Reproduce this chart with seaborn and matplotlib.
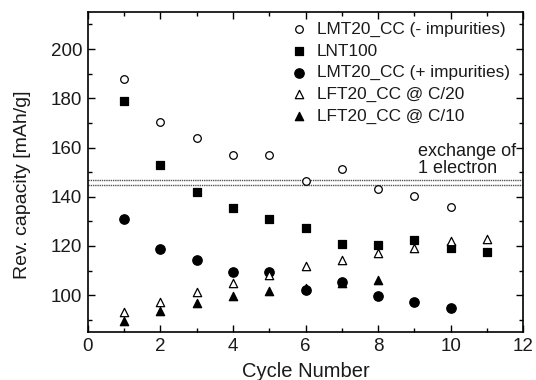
import matplotlib
matplotlib.use("Agg")
import matplotlib.pyplot as plt
from matplotlib.ticker import MultipleLocator
import seaborn as sns
import pandas as pd

sns.set_theme(style="ticks")
plt.rcParams["font.family"] = ["Liberation Sans", "DejaVu Sans"]

# Reversible capacity per cycle for each sample
cycles_lmt_clean = [1, 2, 3, 4, 5, 6, 7, 8, 9, 10]
cap_lmt_clean = [187.7, 170.4, 163.7, 156.8, 156.8, 146.5, 151.2, 143.1, 140.3, 135.9]

cycles_lnt = [1, 2, 3, 4, 5, 6, 7, 8, 9, 10, 11]
cap_lnt = [179.0, 153.1, 142.0, 135.5, 131.1, 127.3, 120.9, 120.2, 122.3, 119.3, 117.5]

cycles_lmt_imp = [1, 2, 3, 4, 5, 6, 7, 8, 9, 10]
cap_lmt_imp = [130.9, 118.9, 114.1, 109.3, 109.3, 102.2, 105.2, 99.5, 97.3, 94.6]

cycles_lft_c20 = [1, 2, 3, 4, 5, 6, 7, 8, 9, 10, 11]
cap_lft_c20 = [93.3, 97.3, 101.1, 104.8, 108.2, 111.8, 114.5, 117.1, 119.3, 121.9, 122.7]

cycles_lft_c10 = [1, 2, 3, 4, 5, 6, 7, 8]
cap_lft_c10 = [89.6, 93.7, 96.8, 99.5, 101.8, 102.8, 105.0, 106.0]

# Capacity band for the exchange of one electron
electron_band = [146.7, 144.6]

series = [
    ("LMT20_CC (- impurities)", cycles_lmt_clean, cap_lmt_clean, "o", "white", 30),
    ("LNT100", cycles_lnt, cap_lnt, "s", "black", 36),
    ("LMT20_CC (+ impurities)", cycles_lmt_imp, cap_lmt_imp, "o", "black", 46),
    ("LFT20_CC @ C/20", cycles_lft_c20, cap_lft_c20, "^", "white", 36),
    ("LFT20_CC @ C/10", cycles_lft_c10, cap_lft_c10, "^", "black", 36),
]

ink = "#1a1a1a"

fig = plt.figure(figsize=(5.36, 3.8), dpi=100)
ax = fig.add_axes([0.164, 0.126, 0.812, 0.842])

for y in electron_band:
    ax.axhline(y, color="#555555", lw=1.0, ls=(0, (1, 0.6)), zorder=1)

for label, xs, ys, marker, face, size in series:
    df = pd.DataFrame({"cycle": xs, "capacity": ys})
    sns.scatterplot(data=df, x="cycle", y="capacity", ax=ax, marker=marker,
                    s=size, facecolor=face, edgecolor="black", linewidth=0.9,
                    label=label, zorder=3)

ax.text(9.1, 155.0, "exchange of\n1 electron", ha="left", va="center",
        fontsize=13, linespacing=0.95, color=ink)

ax.set_xlim(0, 12)
ax.set_ylim(85, 215)
ax.xaxis.set_major_locator(MultipleLocator(2))
ax.xaxis.set_minor_locator(MultipleLocator(1))
ax.yaxis.set_major_locator(MultipleLocator(20))
ax.yaxis.set_minor_locator(MultipleLocator(10))
ax.tick_params(which="both", direction="in", top=True, right=True,
               labelsize=13.5, width=1.0, colors="black", labelcolor=ink,
               pad=4)
ax.tick_params(which="major", length=5)
ax.tick_params(which="minor", length=3)
for sp in ax.spines.values():
    sp.set_linewidth(1.2)
    sp.set_color("black")

ax.set_xlabel("Cycle Number", fontsize=14.5, color=ink)
ax.set_ylabel("Rev. capacity [mAh/g]", fontsize=14, color=ink)
ax.xaxis.set_label_coords(0.5, -0.093)
ax.yaxis.set_label_coords(-0.131, 0.46)

leg = ax.legend(loc="upper right", bbox_to_anchor=(0.97, 0.97),
                frameon=False, fontsize=12.4, handletextpad=0.55,
                labelspacing=0.38, borderaxespad=0.0, handlelength=1.0,
                borderpad=0.0)
for t in leg.get_texts():
    t.set_color(ink)

fig.savefig("out.png", dpi=100)
